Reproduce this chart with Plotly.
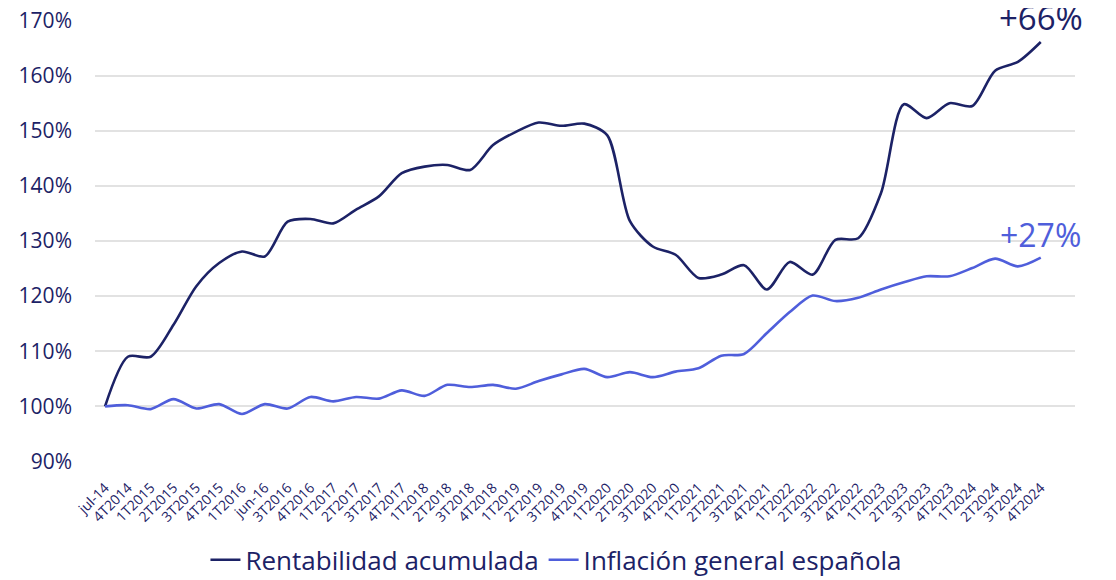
import plotly.graph_objects as go

categories = ["jul-14", "4T2014", "1T2015", "2T2015", "3T2015", "4T2015", "1T2016", "jun-16",
              "3T2016", "4T2016", "1T2017", "2T2017", "3T2017", "4T2017", "1T2018", "2T2018",
              "3T2018", "4T2018", "1T2019", "2T2019", "3T2019", "4T2019", "1T2020", "2T2020",
              "3T2020", "4T2020", "1T2021", "2T2021", "3T2021", "4T2021", "1T2022", "2T2022",
              "3T2022", "4T2022", "1T2023", "2T2023", "3T2023", "4T2023", "1T2024", "2T2024",
              "3T2024", "4T2024"]

rentabilidad = [100.0, 109.0, 109.0, 114.8, 121.8, 126.0, 128.1, 127.2, 133.5, 134.0,
                133.2, 135.7, 138.1, 142.3, 143.5, 143.8, 142.9, 147.4, 149.8, 151.5,
                150.9, 151.3, 149.2, 133.6, 129.0, 127.5, 123.3, 123.9, 125.6, 121.2,
                126.2, 123.9, 130.2, 130.5, 138.7, 154.8, 152.3, 155.0, 154.5, 160.9,
                162.5, 166.1]

inflacion = [100.0, 100.2, 99.5, 101.3, 99.6, 100.4, 98.6, 100.4, 99.6, 101.7,
             100.9, 101.7, 101.4, 102.9, 101.9, 103.9, 103.5, 103.9, 103.2, 104.6,
             105.8, 106.8, 105.3, 106.2, 105.3, 106.3, 106.9, 109.2, 109.5, 113.3,
             117.1, 120.1, 119.1, 119.7, 121.2, 122.5, 123.6, 123.6, 125.1, 126.8,
             125.4, 127.0]

y_ticks = [90, 100, 110, 120, 130, 140, 150, 160, 170]
y_labels = [f"{v}%" for v in y_ticks]

NAVY = "#1c2266"
BLUE = "#4f5edb"
FONT = "Open Sans"

x = list(range(len(categories)))

fig = go.Figure()
fig.add_trace(go.Scatter(x=x, y=rentabilidad, mode="lines", name="Rentabilidad acumulada",
                         line=dict(color=NAVY, width=2.6, shape="spline", smoothing=0.8)))
fig.add_trace(go.Scatter(x=x, y=inflacion, mode="lines", name="Inflación general española",
                         line=dict(color=BLUE, width=2.6, shape="spline", smoothing=0.8)))

fig.add_annotation(x=x[-1], y=rentabilidad[-1], text="+66%", showarrow=False,
                   xanchor="center", yanchor="bottom", yshift=0,
                   font=dict(family=FONT, size=33, color=NAVY))
fig.add_annotation(x=x[-1], y=inflacion[-1], text="+27%", showarrow=False,
                   xanchor="center", yanchor="bottom", yshift=0,
                   font=dict(family=FONT, size=32, color=BLUE))

fig.update_layout(
    width=1108, height=580,
    margin=dict(l=87, r=41, t=12, b=126, autoexpand=False),
    paper_bgcolor="white", plot_bgcolor="white",
    font=dict(family=FONT, color=NAVY),
    showlegend=True,
    legend=dict(orientation="h", x=0.495, xanchor="center", xref="container",
                y=0.008, yanchor="bottom", yref="container",
                font=dict(family=FONT, size=26, color=NAVY), itemwidth=30,
                tracegroupgap=0),
)
fig.update_xaxes(
    range=[-0.44, 42.5], tickmode="array", tickvals=x, ticktext=categories,
    tickangle=-45, tickfont=dict(family=FONT, size=14, color=NAVY),
    showgrid=False, zeroline=False, showline=False, ticks="", automargin=False,
    ticklabelstandoff=14, ticklabeloverflow="allow",
)
fig.update_yaxes(
    range=[89.9, 170.1], tickmode="array", tickvals=y_ticks, ticktext=y_labels,
    tickfont=dict(family=FONT, size=21, color=NAVY),
    showgrid=True, gridcolor="#e2e2e2", gridwidth=1.5, zeroline=False, showline=False,
    ticks="", ticklabelstandoff=22, automargin=False, ticklabeloverflow="allow",
)

fig.write_html("out.html")
